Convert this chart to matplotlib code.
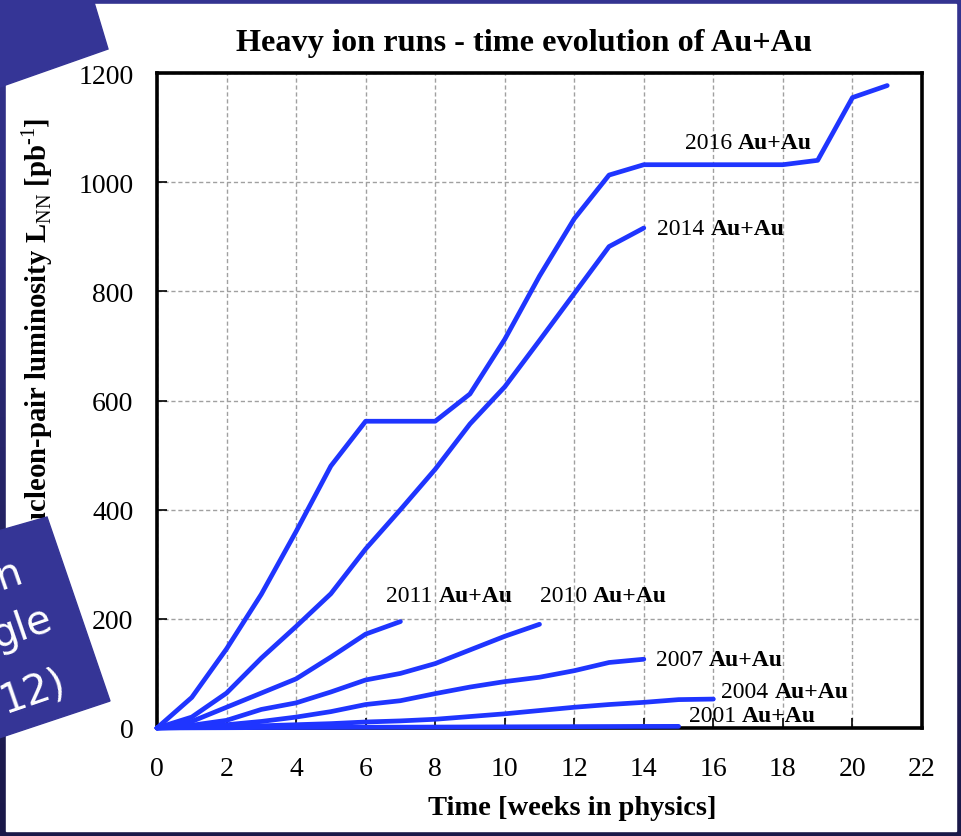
"""
Heavy ion runs: integrated nucleon-pair luminosity per Au+Au run vs weeks of physics
"""

import numpy as np
import matplotlib.pyplot as plt
from matplotlib.patches import Polygon, Rectangle

# integrated luminosity per week of physics (pb^-1)
weeks_2016 = np.arange(0, 22)
lumi_2016 = [0, 56, 145, 245, 360, 480, 562, 562, 562, 612, 712, 828, 933,
             1013, 1032, 1032, 1032, 1032, 1032, 1040, 1155, 1177]
weeks_2014 = np.arange(0, 15)
lumi_2014 = [0, 20, 64, 128, 186, 246, 328, 400, 474, 557, 625, 710, 796, 882, 916]
weeks_2011 = np.arange(0, 8)
lumi_2011 = [0, 12, 38, 64, 90, 130, 172, 195]
weeks_2010 = np.arange(0, 12)
lumi_2010 = [0, 5, 14, 34, 46, 66, 88, 100, 118, 143, 168, 190]
weeks_2007 = np.arange(0, 15)
lumi_2007 = [0, 2, 6, 12, 20, 30, 43, 50, 63, 75, 85, 93, 105, 120, 126]
weeks_2004 = np.arange(0, 17)
lumi_2004 = [0, 1, 2, 4, 6, 8, 11, 13, 16, 21, 26, 32, 38, 43, 47, 52, 53]
weeks_2001 = np.arange(0, 16)
lumi_2001 = [0, 0.3, 0.5, 0.8, 1, 1.2, 1.4, 1.5, 1.7, 1.9, 2.1, 2.3, 2.5, 2.7, 2.9, 3.0]

runs = [(weeks_2016, lumi_2016), (weeks_2014, lumi_2014), (weeks_2011, lumi_2011),
        (weeks_2010, lumi_2010), (weeks_2007, lumi_2007), (weeks_2004, lumi_2004),
        (weeks_2001, lumi_2001)]

# run labels: year, x, y (centre of text)
label_years = ['2016', '2014', '2011', '2010', '2007', '2004', '2001']
label_x = [15.17, 14.39, 6.6, 11.0, 14.36, 16.23, 15.3]
label_y = [1073, 916, 242, 242, 126, 66.5, 22.5]

W, H = 961, 837
serif = 'Liberation Serif'
plt.rcParams['font.family'] = serif
plt.rcParams['mathtext.fontset'] = 'custom'
plt.rcParams['mathtext.rm'] = serif
plt.rcParams['mathtext.bf'] = serif + ':bold'

plt.close('all')
fig = plt.figure(figsize=(W / 100, H / 100), dpi=100)

# slide background: dark blue frame with white panel
bg = fig.add_axes([0, 0, 1, 1], zorder=-10)
top_c = np.array([52, 52, 145]) / 255
bot_c = np.array([26, 24, 72]) / 255
t = np.linspace(0, 1, 200)[:, None, None]
grad = top_c * (1 - t) + bot_c * t
bg.imshow(grad, extent=(0, W, H, 0), aspect='auto')
bg.add_patch(Rectangle((6, 5), 950, 827, color='white'))
bg.set_xlim(0, W)
bg.set_ylim(H, 0)
bg.axis('off')

# main plot
ax = fig.add_axes([157 / W, 1 - 729 / H, (922 - 157) / W, (729 - 74) / H])
ax.set_facecolor('white')
for x, y in runs:
    ax.plot(x, y, color='#1f35ff', lw=3.4, solid_capstyle='round',
            solid_joinstyle='round', clip_on=False, zorder=3)

for yr, x, y in zip(label_years, label_x, label_y):
    tx = ax.text(x, y, yr + ' ', fontsize=17, va='center', ha='left')
    ax.annotate('Au+Au', xy=(1, 0), xycoords=tx, fontsize=17,
                fontweight='bold', va='bottom', ha='left')

ax.set_xlim(0, 22)
ax.set_ylim(0, 1200)
ax.set_xticks(np.arange(0, 23, 2))
ax.set_yticks(np.arange(0, 1201, 200))
ax.tick_params(direction='in', length=7, width=1.2, labelsize=20)
ax.tick_params(axis='x', pad=20)
ax.tick_params(axis='y', pad=17)
ax.grid(True, color='#a0a0a0', lw=1, linestyle=(0, (3, 2)))
for s in ax.spines.values():
    s.set_linewidth(2.6)
    s.set_color('black')

ax.set_xlabel('Time [weeks in physics]', fontsize=20.5, fontweight='bold')
ax.xaxis.set_label_coords((572 - 157) / 765, -(796 - 729) / 655)

fig.text(524 / W, 1 - 43 / H, 'Heavy ion runs - time evolution of Au+Au',
         fontsize=23.2, fontweight='bold', ha='center', va='center')
fig.text(37 / W, 1 - 118 / H, r'Nucleon-pair luminosity L$_{\rm NN}$ [pb$^{\text{-1}}$]',
         fontsize=20.7, fontweight='bold', rotation=90, ha='center', va='top')

# slide decorations on top
ov = fig.add_axes([0, 0, 1, 1], zorder=5)
ov.patch.set_alpha(0)
ov.set_xlim(0, W)
ov.set_ylim(H, 0)
ov.axis('off')
box_c = '#353596'
ov.add_patch(Polygon([(0, 0), (93, 0), (108, 50), (0, 88)], color=box_c))
ov.add_patch(Polygon([(47, 518), (110, 702), (-40, 752), (-100, 560)], color=box_c))
for txt, px, py in [('n', 0, 590), ('gle', -3, 648), ('12)', 5, 713)]:
    ov.text(px, py, txt, color='white', fontsize=29, family='DejaVu Sans',
            rotation=19, rotation_mode='anchor', ha='left', va='baseline')

fig.savefig('out.png', dpi=100)
